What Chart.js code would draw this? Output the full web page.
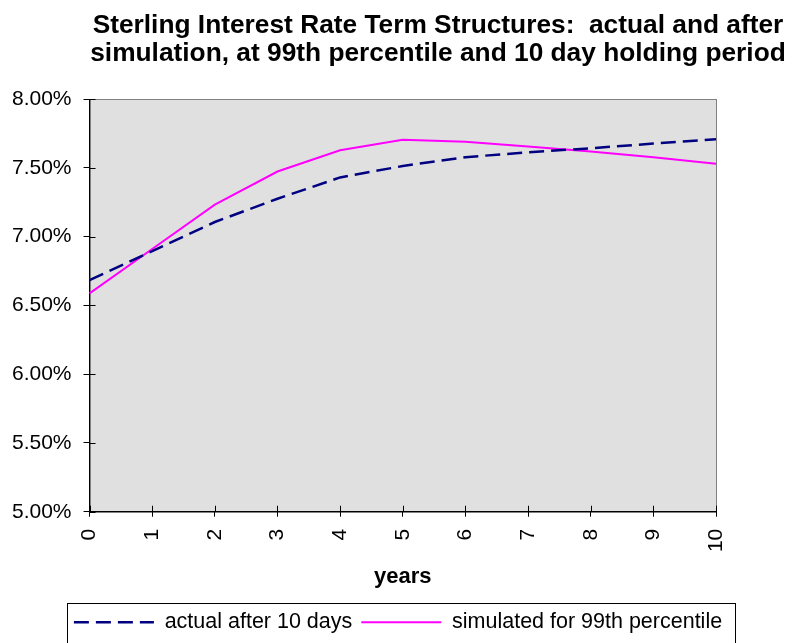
<!DOCTYPE html>
<html>
<head>
<meta charset="utf-8">
<script src="https://cdn.jsdelivr.net/npm/chart.js@4"></script>
<style>
html,body{margin:0;padding:0;background:#fff;}
#wrap{width:794px;height:643px;position:relative;overflow:hidden;}
canvas{display:block;}
</style>
</head>
<body>
<div id="wrap"><canvas id="c" width="794" height="643"></canvas></div>
<script>
// ---- data ----
const titleLines = [
  'Sterling Interest Rate Term Structures:  actual and after',
  'simulation, at 99th percentile and 10 day holding period'
];
const years = ['0','1','2','3','4','5','6','7','8','9','10'];
const actualAfter10Days = [6.683, 6.895, 7.106, 7.275, 7.430, 7.513, 7.577, 7.613, 7.642, 7.676, 7.707];
const simulated99th    = [6.587, 6.910, 7.232, 7.473, 7.628, 7.704, 7.690, 7.654, 7.618, 7.577, 7.529];
const seriesNames = ['actual after 10 days', 'simulated for 99th percentile'];
const yTickValues = [5.00, 5.50, 6.00, 6.50, 7.00, 7.50, 8.00];
const xAxisTitle = 'years';

const FONT = '"Liberation Sans", Arial, sans-serif';

const plotBg = {
  id: 'plotBg',
  beforeDraw(chart) {
    const {ctx, chartArea: a} = chart;
    ctx.save();
    ctx.fillStyle = '#e0e0e0';
    ctx.fillRect(a.left, a.top, a.right - a.left, a.bottom - a.top);
    ctx.strokeStyle = '#808080';
    ctx.lineWidth = 1;
    ctx.strokeRect(Math.round(a.left) + 0.5, Math.round(a.top) + 0.5,
                   Math.round(a.right - a.left), Math.round(a.bottom - a.top));
    ctx.restore();
  }
};

const innerTicks = {
  id: 'innerTicks',
  afterDraw(chart) {
    const {ctx, chartArea: a} = chart;
    const xs = chart.scales.x, ys = chart.scales.y;
    ctx.save();
    ctx.strokeStyle = '#000';
    ctx.lineWidth = 1;
    ctx.beginPath();
    ys.ticks.forEach((t, i) => {
      const y = Math.round(ys.getPixelForTick(i)) + 0.5;
      ctx.moveTo(a.left, y); ctx.lineTo(a.left + 6, y);
    });
    xs.ticks.forEach((t, i) => {
      const x = Math.round(xs.getPixelForTick(i)) + 0.5;
      ctx.moveTo(x, a.bottom); ctx.lineTo(x, a.bottom - 6);
    });
    ctx.stroke();
    ctx.restore();
  }
};

const titlePlugin = {
  id: 'titleText',
  afterDraw(chart) {
    const ctx = chart.ctx;
    ctx.save();
    ctx.fillStyle = '#000';
    ctx.font = 'bold 26.3px ' + FONT;
    ctx.textAlign = 'center';
    ctx.textBaseline = 'alphabetic';
    ctx.fillText(titleLines[0], 438, 33);
    ctx.fillText(titleLines[1], 438, 61);
    ctx.restore();
  }
};

// centre the legend under the whole page rather than the padded area
const legendShift = {
  id: 'legendShift',
  afterLayout(chart) {
    const lg = chart.legend;
    if (!lg) return;
    const shift = 398 - (lg.left + lg.right) / 2;
    lg.left += shift;
    lg.right += shift;
  }
};

const legendBorder = {
  id: 'legendBorder',
  afterDraw(chart) {
    const lg = chart.legend;
    if (!lg || !lg.legendHitBoxes || !lg.legendHitBoxes.length) return;
    const boxes = lg.legendHitBoxes;
    const left = Math.min(...boxes.map(b => b.left)) - 7;
    const right = Math.max(...boxes.map(b => b.left + b.width)) + 13;
    const top = lg.top;
    const ctx = chart.ctx;
    ctx.save();
    ctx.strokeStyle = '#000';
    ctx.lineWidth = 1;
    ctx.strokeRect(Math.round(left) + 0.5, Math.round(top) + 0.5, Math.round(right - left), 80);
    ctx.restore();
  }
};

new Chart(document.getElementById('c'), {
  type: 'line',
  data: {
    labels: years,
    datasets: [
      {
        label: seriesNames[0],
        data: actualAfter10Days,
        borderColor: '#000080',
        backgroundColor: '#000080',
        borderWidth: 2.5,
        borderDash: [15, 7],
        pointRadius: 0,
        tension: 0,
        fill: false
      },
      {
        label: seriesNames[1],
        data: simulated99th,
        borderColor: '#ff00ff',
        backgroundColor: '#ff00ff',
        borderWidth: 2,
        pointRadius: 0,
        tension: 0,
        fill: false
      }
    ]
  },
  options: {
    responsive: false,
    animation: false,
    devicePixelRatio: 1,
    layout: { padding: { top: 99, left: 0, right: 78, bottom: 0 } },
    plugins: {
      title: { display: false },
      tooltip: { enabled: false },
      legend: {
        display: true,
        position: 'bottom',
        labels: {
          usePointStyle: true,
          pointStyle: 'line',
          pointStyleWidth: 80,
          color: '#000',
          padding: 9,
          font: { family: FONT, size: 21.5 },
          generateLabels(chart) {
            const items = Chart.defaults.plugins.legend.labels.generateLabels(chart);
            items.forEach(it => {
              const ds = chart.data.datasets[it.datasetIndex];
              it.lineDash = ds.borderDash || [];
              it.lineWidth = ds.borderWidth;
              it.strokeStyle = ds.borderColor;
              it.fillStyle = ds.borderColor;
              it.pointStyle = 'line';
            });
            return items;
          }
        }
      }
    },
    scales: {
      x: {
        type: 'category',
        offset: false,
        grid: { display: true, drawOnChartArea: false, drawTicks: true, tickLength: 5, color: '#000', offset: false },
        border: { display: true, color: '#000', width: 1 },
        ticks: {
          color: '#000',
          minRotation: 90,
          maxRotation: 90,
          autoSkip: false,
          padding: 12,
          font: { family: FONT, size: 21 }
        },
        title: {
          display: true,
          text: xAxisTitle,
          color: '#000',
          font: { family: FONT, size: 22, weight: 'bold' },
          padding: { top: 0, bottom: 12 }
        }
      },
      y: {
        type: 'linear',
        min: yTickValues[0],
        max: yTickValues[yTickValues.length - 1],
        afterBuildTicks(scale) { scale.ticks = yTickValues.map(v => ({ value: v })); },
        grid: { display: true, drawOnChartArea: false, drawTicks: true, tickLength: 6, color: '#000' },
        border: { display: true, color: '#000', width: 1 },
        ticks: {
          color: '#000',
          padding: 12,
          font: { family: FONT, size: 21 },
          callback: v => Number(v).toFixed(2) + '%'
        }
      }
    }
  },
  plugins: [plotBg, innerTicks, titlePlugin, legendShift, legendBorder]
});
</script>
</body>
</html>
